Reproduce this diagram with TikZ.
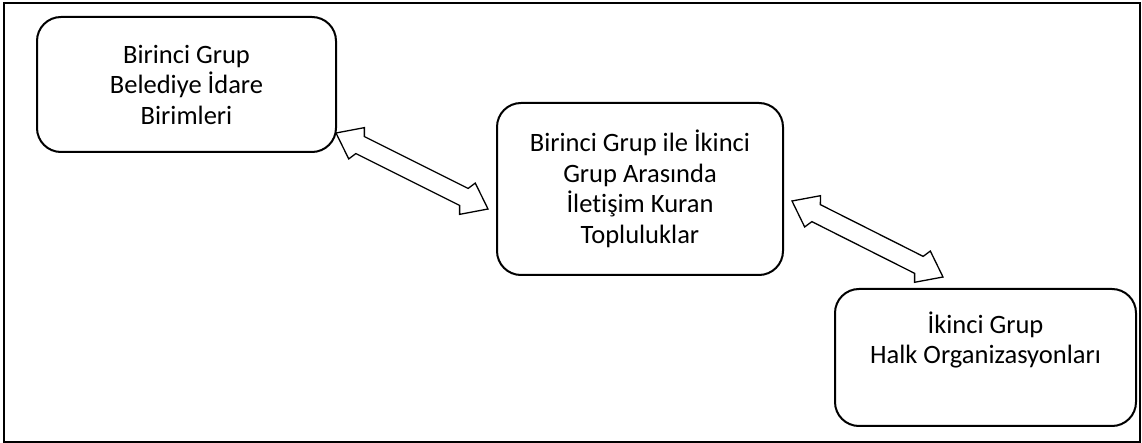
\documentclass[tikz,border=0pt]{standalone}
\usepackage{fontspec}
\setmainfont[Ligatures=NoCommon]{Carlito}
\usetikzlibrary{calc}

\begin{document}
\begin{tikzpicture}
[x=0.5pt, y=-0.5pt,
block/.style ={rectangle, draw, line width=1pt, rounded corners=12pt,
inner sep=0pt, outer sep=0pt, align=center,
font=\fontsize{13.25}{15.25}\selectfont},
frame/.style ={draw, line width=0.75pt},
twoway/.style ={draw, line width=0.65pt, line join=miter, to path={
let \p1=($(\tikztostart)!11.5pt!(\tikztotarget)$),
\p2=($(\tikztostart)!13.5pt!(\tikztotarget)$),
\p3=($(\tikztotarget)!13.5pt!(\tikztostart)$),
\p4=($(\tikztotarget)!11.5pt!(\tikztostart)$) in
-- ($(\p1)!8.75pt!90:(\tikztotarget)$) -- ($(\p2)!4.75pt!90:(\tikztotarget)$)
-- ($(\p3)!4.75pt!90:(\tikztotarget)$) -- ($(\p4)!8.75pt!90:(\tikztotarget)$)
-- (\tikztotarget)
-- ($(\p4)!8.75pt!-90:(\tikztotarget)$) -- ($(\p3)!4.75pt!-90:(\tikztotarget)$)
-- ($(\p2)!4.75pt!-90:(\tikztotarget)$) -- ($(\p1)!8.75pt!-90:(\tikztotarget)$)
-- cycle}}]
\useasboundingbox (0,0) rectangle (1142,443);
% outer frame
\path [frame] (4,3) rectangle (1140,442);
% the three groups
\node [block, minimum width=149.5pt, minimum height=67.5pt] (first) at (186.5,84.5)
{Birinci Grup\\Belediye İdare\\Birimleri};
\node [block, minimum width=143pt, minimum height=86pt] (bridge) at (640,189)
{Birinci Grup ile İkinci\\Grup Arasında\\İletişim Kuran\\Topluluklar};
\node [block, minimum width=150.5pt, minimum height=68.5pt] (second) at (985.5,357.5)
{İkinci Grup\\Halk Organizasyonları\\\strut};
% arrow ends
\coordinate (firstend) at (336,133);
\coordinate (bridgeleft) at (488,209);
\coordinate (bridgeright) at (792,201);
\coordinate (secondend) at (943,277);
\path [twoway] (firstend) to (bridgeleft);
\path [twoway] (bridgeright) to (secondend);
\end{tikzpicture}
\end{document}
